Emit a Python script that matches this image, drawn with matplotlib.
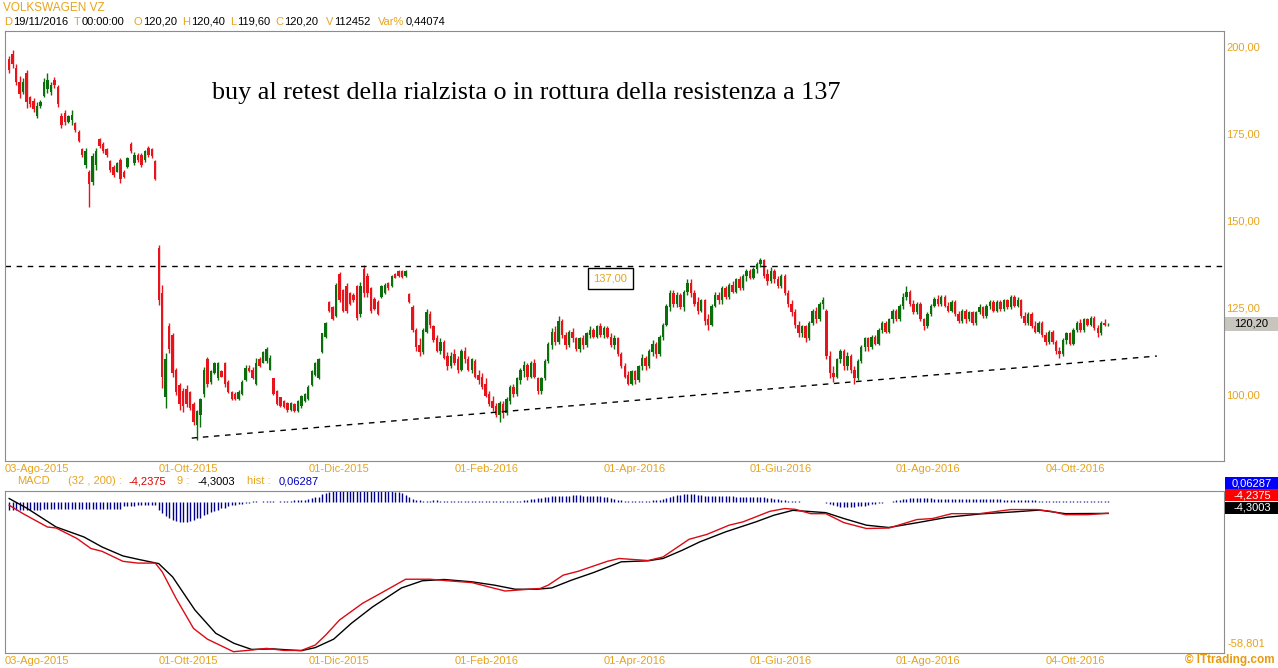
import numpy as np
import matplotlib
matplotlib.use('Agg')
import matplotlib.pyplot as plt
from matplotlib.patches import Rectangle
from matplotlib.text import Annotation
import matplotlib.transforms as mtrans

# ======================================
# Data (daily candles)
# ======================================
opens  = [196.5,198,194,190,187,192.5,185.5,184.5,180,183,186,188,187,190.5,188.5,180,181,178.5,179,178,
          175.5,170.5,166,164,161,166,173.5,172,170.5,167,165.5,164,167.5,164,165.5,172,166.5,169,169,167.5,
          171,170.5,167,
          142,129,99,119.5,117,107,102.5,101,101.5,100.5,97,91,94,100,110,103.5,106,104.5,106.5,109,
          103.5,100.5,100,98.5,100,104,107.5,107,103,110,109,109.5,107,104.5,101,99,98,97.5,
          95.5,97.2,95,96.5,98,98.5,102.5,105.5,104.5,112,116.5,126.5,125,122.5,134.5,130,131,129,
          128.5,131,123,136,134,130.5,127.5,126.5,128,129,132,131,134.5,135.5,135.5,134,128.8,125,
          118.5,114,112,118,123,119.5,116,112.5,115,111,108,111.5,110,107,112.5,110,107,109.5,105.5,105,
          103,100,98,96.5,94,97,94.5,98,102,100,104,106.5,108.5,105,109,104.5,101,104.5,109.5,114,
          118,115,121,117,114,118,116,113,116,114,117,118.5,116.5,119.5,117,119,116.5,114,116,111.5,
          108,105.5,103,106.5,104,108,110.5,108,112,114.5,111.5,116.5,120,125,129,126,128.5,125,129.5,132,
          129,126.5,124,127,121.5,120,125.5,128.5,127,130.5,128,131.5,129.5,133,130.5,134,135.5,133.5,136,137.5,
          138.5,134.5,132.5,135.5,133,131,134,129,126,123.5,120,117.5,119.5,116,120.5,124,121.5,126,124,111,
          106,105,110,112.5,108,111,107,104.5,109.5,113.5,116,113.5,116.5,114.5,118.5,120.5,118,121.5,124,121.5,
          125.5,128,129.5,126,123.5,126,121.5,119.5,123,125.5,127.5,126,128,125.5,124,126.5,123,121,124,121.5,
          123.5,120.5,123.5,125,122.5,125.5,126.5,124,126.5,124.5,127,125,128,125.5,127,122.5,120.5,123,119.5,118,
          120.5,117,115,118,115,112.5,111.5,115.5,117.5,114.5,118.5,120.5,118.5,121.5,120,122,119,117.5,120.5,120.2]
highs  = [197.5,199,195,191.5,191,193.5,186,185.3,184,184.7,191,192.5,190,191.4,189,181,181.8,180.4,181.8,178.4,
          176,171,170.9,164.6,169.5,170.9,173.8,172.6,170.9,167.4,166,166.9,168,164.6,168.3,172.6,169.7,169.5,169.5,170.3,
          171.5,170.9,167.4,
          142.9,131.4,111.8,120.5,117.6,107.5,103.2,101.7,102.6,101,97.7,95.4,98.8,107.8,110.7,107,109.2,109.2,107,109.3,
          104,101,100.6,101.2,104,108.4,108.4,107.8,110.4,110.7,112.3,113.5,111.2,104.6,101.2,99.2,98.3,97.7,
          97.7,97.4,98.3,99.7,100.3,102.6,106.9,109.2,110.4,117.6,120.7,126.8,125.3,132,135.2,130.3,132,129.4,
          129,131.4,132.3,137.2,134.9,130.8,128,127,131.4,132,132.3,134.3,134.9,135.7,135.7,135.7,129.1,125.6,
          119,116,119,124.5,124,120,117,116,115.5,112,112,113,111,113,113.5,111,110.5,110,107,106,
          104.5,101,99.5,97.5,98,98,99,102.5,103,105,107.5,109.5,109,109.5,110,105,105,110,115,119,
          119.5,122.5,121.5,118,118.5,119,116.5,116.5,117,118,119.5,119,120,120.5,119.5,119.5,117.5,117,116.5,112,
          109,106.5,107,107,108.5,111.5,111,113,115.5,115,117,120.5,126,130,130,129.5,129,130,133,133,
          130,128,127.5,127.5,123,126,129.5,129.5,131,131,132,132.5,133.5,134,134.5,136,136,136.5,138,139.3,
          139,136,136.5,136,134,134.5,134.5,130,127,124.5,121,120,120,121,124.5,125,126.5,128,124.5,112.5,
          108,110.5,113,113,112,111.5,108,110,114,116.5,116.5,117,117,119,121,121,122,124.5,124.5,126,
          129,131,130,127,126.5,126.5,122,123.5,126,128,128.5,128.5,128.5,126.5,127,127,124,124.5,124.5,124,
          124,124,126,125.5,126,127,127,127,127,127.5,127.5,128.5,128.5,128,127.5,123.5,123.5,123.5,121,121,
          121,118,118.5,118.5,115.5,113.5,116,118,118,119,121,121.5,122,122,122.5,122.5,120,121,121.5,120.4]
lows   = [192.5,194,189,185.3,186.5,182.5,182.7,181.3,179.5,182.4,185.6,186.7,186.3,188.2,182.7,176.7,177.5,178,177.5,175.5,
          172.6,168.3,165.1,153.9,160.2,164.6,170.9,169.5,168.3,164,162.5,164,160.8,162.2,165.1,169.5,166,166.9,165.4,166.9,
          168.3,168,161.7,
          125.6,101.7,96,111.8,104.9,99.7,95.4,94.8,96.3,95.4,91,86.7,90.5,99.1,102,103,105.8,104,104.9,102,
          100.3,98.3,98.3,98.3,99.7,103.8,106.3,104.3,102.6,107.7,108.8,108.9,106.8,99.7,96.8,96.3,96,94.8,
          95.2,94.8,94.8,96,97.7,98.3,102.3,105.3,104.3,111.8,116.2,123.6,121.3,122.2,126.5,123.6,123.3,125.6,
          126.5,121.3,122.2,128,128,123.3,124.2,122.8,127.8,128.8,130,130.8,133.4,133.7,133.4,133.7,126.2,117.9,
          112.5,111,111.5,117.5,119,115,112,111.5,110,107,107.5,108.5,106,106.5,109,106.5,106,104.5,103,101.5,
          99,96.5,95,93.5,92,93,94,97,99,99.5,103,105,104,104.5,104.5,100,100,104,109,113,
          114,114.5,116,113,113.5,115,112.5,112,113,113.5,116,116,116,116.5,116,116,113.5,113,111,107.5,
          104.5,102.5,102.5,103,103.5,107,107,107.5,111,110.5,111,115.5,119.5,124,125,125,124.5,124,128.5,128,
          125.5,123,123.5,120,118.5,119.5,125,126,126,127.5,127.5,129,129,130,130,132.5,133,133,135,136.5,
          133.5,131.5,132,132,130.5,130.5,128.5,125,122.5,119,116.5,116.5,115,115.5,120,120.5,121,124.5,110,104.5,
          103.5,104.5,109,107,107,106,103,104,109,112.5,112.5,113,114,114,117.5,117.5,117.5,120.5,121,121,
          124.5,127,125.5,123,123,121,118.5,119,122.5,125,125.5,125.5,125,123.5,123.5,122.5,120.5,120.5,120.5,121,
          120,120,123,122,122,124.5,123.5,123.5,124,124,124.5,124.5,125,125,122,120,120,119,117.5,117.5,
          116.5,114,114.5,114.5,111.5,110.5,111,114.5,114,114,118,118,118,119.5,119.5,118.5,116.5,117,119.5,119.6]
closes = [193.5,195,190,186.5,190,184,183.5,182,183,184,190,190.5,189,189,183.5,177.5,178.5,180,180.5,176,
          173,168.8,170,160.5,168.5,170,171.5,170,168.8,164.5,163,166.5,162,162.6,168,170,169,167.5,166,170,
          169,168.5,162,
          127,105,110,113,106,100.5,97,96.5,97,96,92,95,98.5,107,103,106.5,109,109,105,103,
          100.5,98.5,98.5,100.5,103.5,107.5,106.5,104.5,109,108,112,113,110.5,100,97,96.5,96.3,95.3,
          97.5,95,98,99.5,100,102,106.5,109,110,117.5,120.5,124,121.5,131.5,127,124,124,126,
          127,122,131,129,129,124,124.5,123,131,131.5,130.5,134,133.5,134,133.7,135.5,126.5,118.5,
          113.5,112,118.5,123.5,120,115.5,112.5,115,110.5,108,111,109,107,112.5,110,107,110,105,104,102,
          99.5,97,96,94,97.5,94.5,98.5,102,100,104.5,107,108.5,105,109,105,101,104.5,109.5,114.5,118,
          115,121,117,114,118,116,113,116,114,117.5,118.5,116.5,119.5,117,119,116.5,114,116,111.5,108,
          105,103,106.5,104,108,110.5,108,112.5,114.5,111.5,116.5,120,125.5,129,126,128.5,125,129.5,132,129,
          126,124,127,121,120,125.5,128.5,127,130.5,128,131.5,129.5,133,130.5,134,135.5,133.5,136,137.5,138.5,
          134,132.5,135.5,133,131,134,129,126,123.5,120,117.5,119.5,116,120.5,124,121.5,126,127,111,106,
          105,110,112.5,108,111,107,104.5,109.5,113.5,116,113.5,116.5,114.5,118.5,120.5,118,121.5,124,121.5,125.5,
          128,129.5,126,123.5,126,121.5,119.5,123,125.5,127.5,126,128,125.5,124,126.5,123,121,124,121.5,123.5,
          120.5,123.5,125,122.5,125.5,126.5,124,126.5,124.5,127,125,128,125.5,127,122.5,120.5,123,119.5,118,120.5,
          117,115,118,115,112.5,111.5,115.5,117.5,114.5,118.5,120.5,118.5,121.5,120,122,119,117.5,120.5,120,120.2]

# MACD (32,200) and signal (9), read at points along the lines: bar index, value
macd_idx = [0,4,11,13.5,19.5,23.5,26.7,32.7,37,42,44,48,53,57,64.5,70,74,79,84,88,91,95,101.6,106.8,114,121,127,
            133,142.6,147.5,152.7,155,159.3,163.6,172,175.4,183.7,188,195.5,200.6,207,211,218.7,223,226,230.5,
            234.8,240,246.5,253,261,265.5,271,279,288,295.4,299.7,303.7,310,316]
macd_val = [-1.1,-4.4,-9.6,-10.0,-14.1,-18.0,-19.1,-23.0,-23.7,-23.7,-27.1,-37.5,-49.2,-53.4,-58.3,-57.6,-57.0,
            -57.8,-57.8,-55.7,-51.8,-45.9,-39.4,-35.5,-30.0,-30.0,-30.7,-31.3,-34.6,-34.1,-33.6,-32.3,-28.4,-26.9,
            -23.0,-21.9,-22.7,-21.3,-14.4,-12.5,-8.9,-7.6,-3.5,-2.4,-2.7,-4.4,-4.4,-7.9,-10.2,-10.0,-6.7,-6.3,
            -4.4,-4.4,-2.8,-2.8,-3.5,-4.8,-4.8,-4.2375]
sig_idx  = [0,5,13.5,21.5,26.7,32.7,37,43,47,53.4,59.4,64.6,69.7,75.8,84,88,93.3,98.4,104.5,112.8,118.8,125,133,
            139.5,145.5,151.8,156,161.6,168,176,183.7,188,193.5,198.6,206,214.7,219.9,225.3,234.8,240,246.5,252.9,
            261.2,269.8,279.3,289,296.2,303.7,316]
sig_val  = [1.5,-2.2,-9.6,-13.5,-17.4,-20.9,-22.2,-23.9,-29.1,-42.0,-51.1,-55.0,-57.4,-57.2,-57.9,-56.7,-53.4,-47.2,
            -40.8,-33.4,-30.6,-30.1,-31.0,-32.3,-33.9,-33.9,-33.4,-30.4,-27.4,-23.2,-22.8,-21.9,-18.7,-15.4,-11.5,
            -7.6,-5.0,-3.1,-4.0,-6.3,-8.9,-9.8,-7.9,-5.8,-4.5,-3.7,-3.0,-4.4,-4.3003]

# histogram, one value per bar
hist = ([-3.1]*10 + [-2.7]*23 + [-1.4,-1.4,-1.3,-1.3,-1.2,-1.2,-1.1,-1.1,-1.0,-1.0] +
        [-3.1,-4.3,-5.5,-6.2,-7.0,-7.4,-7.8,-7.8,-7.8,-7.4,-7.0,-6.2,-5.9,-5.1,-4.7,
         -3.9,-3.5,-3.1,-2.3,-2.0,-1.6,-1.2,-1.2,-0.8,-0.8,-0.4,-0.4] +
        [0.4,0.4,0.0,0.4,0.4,0.4,0.4,0.0,0.4,0.4,0.4,0.4,0.8,0.8,0.8,0.8,1.2] +
        [1.6,2.0,2.3,3.1,3.5,3.9,4.3] + [4.3]*17 + [4.1,3.9] + [3.5,2.7,2.0,1.2,0.8,0.8] +
        [0.7,0.6,0.7,0.9,0.8,0.7,0.6,0.7,0.7,0.6,0.5,0.6,0.6,0.5,0.5,0.4,0.4,0.5,0.5,0.5,0.4,0.4,0.5,0.5,0.5,
         0.6,0.6,0.7,0.7] +
        [0.9,1.1,1.3,1.5,1.7,1.9,2.1,2.3,2.4,2.4,2.5,2.5] +
        [2.6,2.6,2.7,2.7,2.7,2.6,2.6,2.6,2.5,2.5,2.4,2.3,2.1,1.7] +
        [1.3,1.0,0.8,0.7,0.6,0.5,0.5,0.5,0.5,0.6,0.7,0.8,1.0,1.1] +
        [1.3,1.7,2.1,2.4,2.8,3.0,3.2,3.4,3.4,3.2,3.0,2.8] +
        [2.6,2.6,2.5,2.5,2.5,2.4,2.4,2.4,2.4,2.3,2.3,2.3,2.2,2.2,2.2,2.1,2.1,2.0,1.9,1.7,1.5,1.3,1.1,0.9,0.7] +
        [0.5,0.4,0.4,0.3,0.3,0.3,0.3,0.3,0.2,0.0,-0.4,-0.8] +
        [-1.2,-1.5,-1.8,-1.9,-1.9,-1.9,-1.8,-1.6,-1.5,-1.3,-1.0,-0.8] +
        [-0.6,-0.4,-0.2,0.0,0.3] +
        [0.6,0.8,1.0,1.2,1.4,1.6,1.6,1.6,1.7,1.7,1.6,1.6,1.5,1.5,1.5,1.4,1.4,1.4,1.4,1.3,1.3,1.3,1.4,1.4,1.4,
         1.3,1.3,1.2,1.2,1.2,1.2,1.2,1.1,1.1,1.1,1.0,1.0,1.0,0.9,0.9,0.8,0.8,0.7] +
        [0.7,0.6,0.6,0.6,0.5,0.5,0.5,0.5,0.5,0.5,0.5,0.5,0.5,0.5,0.5,0.5,0.5,0.5,0.5,0.5])

date_idx    = [-1.2,43,86,128,171,213,255,298]
date_labels = ['03-Ago-2015','01-Ott-2015','01-Dic-2015','01-Feb-2016','01-Apr-2016','01-Giu-2016',
               '01-Ago-2016','04-Ott-2016']
price_ticks = [100,125,150,175,200]

resistance = 137.0
res_label_idx = 172.9
trend_idx  = [52.5,330]
trend_val  = [87.3,110.95]

last_close = 120.20
macd_last, sig_last, hist_last = -4.2375, -4.3003, 0.06287
macd_min = -58.801

gold  = '#e6a41e'
red   = '#e8141c'
green = '#0a6e0a'
frame = '#8c8c8c'

plt.rcParams['font.family'] = ['Liberation Sans', 'DejaVu Sans']

W, H = 1278, 668
fig = plt.figure(figsize=(W/100, H/100), dpi=100)
fig.patch.set_facecolor('white')

def px(x0, y0, x1, y1):
    return [x0/W, 1-y1/H, (x1-x0)/W, (y1-y0)/H]

def it(v):
    return '{:.2f}'.format(v).replace('.', ',')

ax  = fig.add_axes(px(5, 31, 1224, 461))
axm = fig.add_axes(px(5, 491, 1224, 653))
xmin, xmax = -0.574, 349.3

# ======================================
# Price panel
# ======================================
o = np.array(opens); h = np.array(highs); l = np.array(lows); c = np.array(closes)
x = np.arange(len(c))
cols = np.where(c >= o, green, red)
ax.vlines(x, l, h, colors=cols, lw=1)
ax.bar(x, c-o, bottom=o, width=0.7, color=cols, linewidth=0)

ax.axhline(resistance, color='black', lw=1, ls=(0, (4, 4)))
ax.plot(trend_idx, trend_val, color='black', lw=1, ls=(0, (4, 4)))

ax.set_xlim(xmin, xmax)
ax.set_ylim(80.7, 204.6)
ax.yaxis.tick_right()
ax.set_yticks(price_ticks)
ax.set_yticklabels([it(v) for v in price_ticks])
ax.tick_params(axis='y', length=0, pad=1.5, labelcolor=gold, labelsize=8)
ax.set_xticks(date_idx)
ax.set_xticklabels(date_labels)
ax.tick_params(axis='x', length=0, pad=2, labelcolor=gold, labelsize=8)
for t in ax.get_xticklabels():
    t.set_ha('left')
for s in ax.spines.values():
    s.set_color(frame)

ax.annotate(it(resistance), xy=(res_label_idx, resistance), xytext=(0, -12.5),
            textcoords='offset pixels', ha='center', va='center', color=gold, fontsize=8,
            bbox=dict(boxstyle='square,pad=0.5', fc='white', ec='black', lw=1))

ax.text(0.1698, 0.8558, 'buy al retest della rialzista o in rottura della resistenza a 137',
        transform=ax.transAxes, fontsize=18.8, family='Liberation Serif', va='center')

# last price tag on the right axis
bt = mtrans.blended_transform_factory(ax.transAxes, ax.transData)
ax.add_patch(Rectangle((1.0008, last_close-2.0), 0.0443, 4.0, transform=bt, fc='#c8c4be', ec='none',
                       clip_on=False))
ax.text(1.022, last_close, it(last_close), transform=bt, ha='center', va='center', fontsize=8,
        color='black')

# ======================================
# MACD panel
# ======================================
axm.vlines(np.arange(len(hist)), 0, hist, colors='#00008b', lw=1)
axm.plot(sig_idx, sig_val, color='black', lw=1)
axm.plot(macd_idx, macd_val, color='#dc0a14', lw=1)
axm.set_xlim(xmin, xmax)
axm.set_ylim(macd_min, 4.45)
axm.set_yticks([])
axm.set_xticks(date_idx)
axm.set_xticklabels(date_labels)
axm.tick_params(axis='x', length=0, pad=2, labelcolor=gold, labelsize=8)
for t in axm.get_xticklabels():
    t.set_ha('left')
for s in axm.spines.values():
    s.set_color(frame)
axm.text(1.003, 0.03, '{:.3f}'.format(macd_min).replace('.', ','), transform=axm.transAxes,
         color=gold, fontsize=8, va='bottom', ha='left')

# value boxes at the right of the MACD panel
boxes = [('{:.5f}'.format(hist_last), '#0000ff'), ('{:.4f}'.format(macd_last), '#ff0000'),
         ('{:.4f}'.format(sig_last), 'black')]
for k, (s, fc) in enumerate(boxes):
    y0 = 477 + k*12.3
    fig.patches.append(Rectangle((1225/W, 1-(y0+12)/H), 53/W, 12/H, transform=fig.transFigure,
                                 fc=fc, ec='none'))
    fig.text(1252/W, 1-(y0+6)/H, s.replace('.', ','), color='white', fontsize=8, ha='center', va='center')

# ======================================
# Header texts (pieces chained left to right)
# ======================================
def chain(parts, x0, y0):
    txt, col, gap = parts[0]
    prev = fig.text(x0/W, 1-y0/H, txt, color=col, fontsize=8, va='center')
    for txt, col, gap in parts[1:]:
        ann = Annotation(txt, xy=(1, 0.5), xycoords=prev, xytext=(gap, 0), textcoords='offset pixels',
                         color=col, fontsize=8, va='center', ha='left')
        fig.add_artist(ann)
        prev = ann

fig.text(3/W, 1-8/H, 'VOLKSWAGEN VZ', color=gold, fontsize=8.5, va='center')

hdr = [('D', gold, 0), ('19/11/2016', 'black', 1), ('T', gold, 6), ('00:00:00', 'black', 1),
       ('O', gold, 9), ('120,20', 'black', 1), ('H', gold, 5), ('120,40', 'black', 1),
       ('L', gold, 5), ('119,60', 'black', 1), ('C', gold, 5), ('120,20', 'black', 1),
       ('V', gold, 7), ('112452', 'black', 1), ('Var%', gold, 8), ('0,44074', 'black', 1)]
chain(hdr, 4, 22)

mhdr = [('MACD', gold, 0), ('(32 , 200) :', gold, 18), ('-4,2375', '#e00000', 7), ('9 :', gold, 11),
        ('-4,3003', 'black', 8), ('hist :', gold, 12), ('0,06287', '#0000c0', 8)]
chain(mhdr, 17, 481)

fig.text(1275/W, 1-660/H, '\u00a9 ITtrading.com', color='#e89a10', fontsize=8.5, fontweight='bold',
         ha='right', va='center')

fig.savefig('out.png', dpi=100)
